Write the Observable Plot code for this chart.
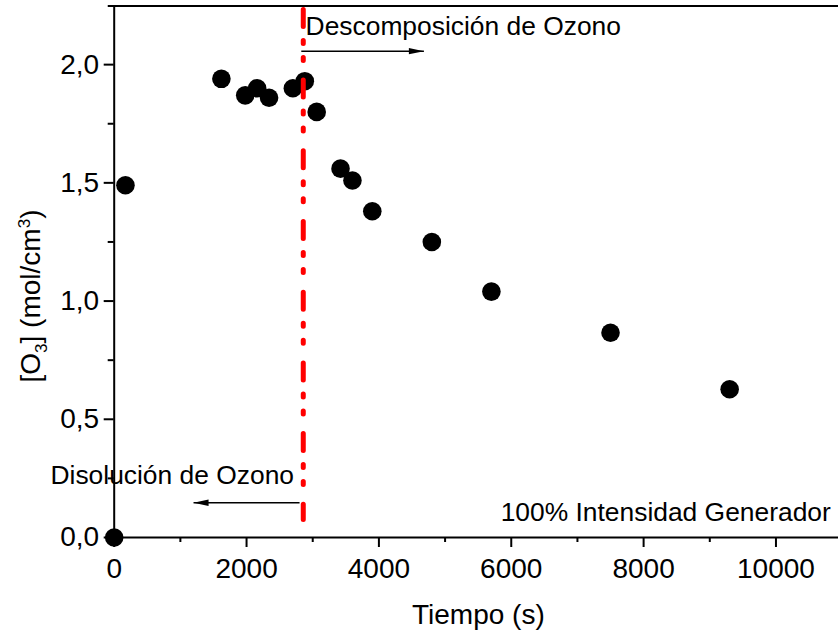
<!DOCTYPE html>
<html>
<head>
<meta charset="utf-8">
<script src="https://cdn.jsdelivr.net/npm/d3@7"></script>
<script src="https://cdn.jsdelivr.net/npm/@observablehq/plot@0.6"></script>
<style>
  html, body { margin: 0; padding: 0; background: #fff; }
</style>
</head>
<body>
<div id="chart"></div>
<script>
// Ozone concentration vs. time
const tiempo = [0, 170, 1620, 1980, 2160, 2340, 2700, 2880, 3060, 3420, 3600, 3900, 4800, 5700, 7500, 9300];
const ozono  = [0, 1.49, 1.94, 1.87, 1.90, 1.86, 1.90, 1.93, 1.80, 1.56, 1.51, 1.38, 1.25, 1.04, 0.866, 0.627];

// axis ticks
const xTicks = [0, 2000, 4000, 6000, 8000, 10000];
const xMinor = [1000, 3000, 5000, 7000, 9000];
const yTicks = [0, 0.5, 1.0, 1.5, 2.0];
const yMinor = [0.25, 0.75, 1.25, 1.75];
const xDomain = [0, 10945];
const yDomain = [0, 2.248];

// boundary between dissolution and decomposition phases
const tiempoCorte = 2857;
const corteY = [2.2314, 0.074];

// annotations
const etiquetas = ["Descomposición de Ozono", "Disolución de Ozono", "100% Intensidad Generador"];
const etiquetaX = [2892, -963, 5840];
const etiquetaY = [2.1235, 0.227, 0.0677];

// phase arrows (start at the boundary, point away from it)
const flechaX1 = [2827, 2801];
const flechaX2 = [4680, 1199];
const flechaY  = [2.057, 0.147];
const flechaDir = ["der", "izq"];

const puntos = tiempo.map((t, i) => ({t, c: ozono[i]}));
const notas = etiquetas.map((s, i) => ({s, x: etiquetaX[i], y: etiquetaY[i]}));
const flechas = flechaX1.map((x1, i) => ({x1, x2: flechaX2[i], y: flechaY[i], dir: flechaDir[i]}));

// filled, elongated arrowheads with the tip at the origin
const puntaDer = {draw(ctx) { ctx.moveTo(0, 0); ctx.lineTo(-15, -3.2); ctx.lineTo(-15, 3.2); ctx.closePath(); }};
const puntaIzq = {draw(ctx) { ctx.moveTo(0, 0); ctx.lineTo(15, -3.2); ctx.lineTo(15, 3.2); ctx.closePath(); }};

const fmtY = d => d.toFixed(1).replace(".", ",");
const fmtX = d3.format("d");

const plot = Plot.plot({
  width: 838,
  height: 634,
  marginLeft: 113.7,
  marginRight: 0,
  marginTop: 5.5,
  marginBottom: 97,
  style: {fontFamily: "'Liberation Sans', Arial, sans-serif", fontSize: "28px", color: "black", background: "white", overflow: "visible"},
  x: {domain: xDomain},
  y: {domain: yDomain},
  marks: [
    // frame lines
    Plot.ruleY([yDomain[1]], {x1: -90, x2: xDomain[1], stroke: "black", strokeWidth: 2}),
    Plot.ruleX([0], {stroke: "black", strokeWidth: 2}),
    Plot.ruleY([0], {stroke: "black", strokeWidth: 2}),
    // axes
    Plot.axisX(xTicks, {tickSize: 10, tickPadding: 11, tickFormat: fmtX, fontSize: 28, strokeWidth: 2, label: null}),
    Plot.axisX(xMinor, {tickSize: 5, tickFormat: () => "", strokeWidth: 2, label: null}),
    Plot.axisY(yTicks, {tickSize: 10, tickPadding: 5, tickFormat: fmtY, fontSize: 28, strokeWidth: 2, label: null}),
    Plot.axisY(yMinor, {tickSize: 6, tickFormat: () => "", strokeWidth: 2, label: null}),
    // x axis title
    Plot.text(["Tiempo (s)"], {frameAnchor: "bottom", dx: 2, dy: 86.3, lineAnchor: "bottom", fontSize: 28, fill: "black"}),
    // annotations
    Plot.text(notas, {x: "x", y: "y", text: "s", textAnchor: "start", lineAnchor: "bottom", fontSize: 26.4, fill: "black"}),
    Plot.link(flechas, {x1: "x1", x2: "x2", y1: "y", y2: "y", stroke: "black", strokeWidth: 1.5}),
    Plot.dot(flechas.filter(d => d.dir === "der"), {x: "x2", y: "y", symbol: puntaDer, fill: "black", stroke: "none"}),
    Plot.dot(flechas.filter(d => d.dir === "izq"), {x: "x2", y: "y", symbol: puntaIzq, fill: "black", stroke: "none"}),
    // measurements
    Plot.dot(puntos, {x: "t", y: "c", r: 9.3, fill: "black", stroke: "none"}),
    // phase boundary
    Plot.ruleX([tiempoCorte], {y1: corteY[0], y2: corteY[1], stroke: "#ff0000", strokeWidth: 5,
      strokeDasharray: "17,14,3,14,3,19.7", strokeLinecap: "round"})
  ]
});

// y axis title with subscript and superscript
const svg = d3.select(plot);
const titulo = svg.append("text")
  .attr("transform", "translate(40,296) rotate(-90)")
  .attr("text-anchor", "middle")
  .attr("font-size", 28)
  .attr("fill", "black");
titulo.append("tspan").text("[O");
titulo.append("tspan").attr("font-size", 17).attr("dy", 7).text("3");
titulo.append("tspan").attr("dy", -7).text("] (mol/cm");
titulo.append("tspan").attr("font-size", 17).attr("dy", -10).text("3");
titulo.append("tspan").attr("dy", 10).text(")");

document.getElementById("chart").appendChild(plot);
</script>
</body>
</html>
